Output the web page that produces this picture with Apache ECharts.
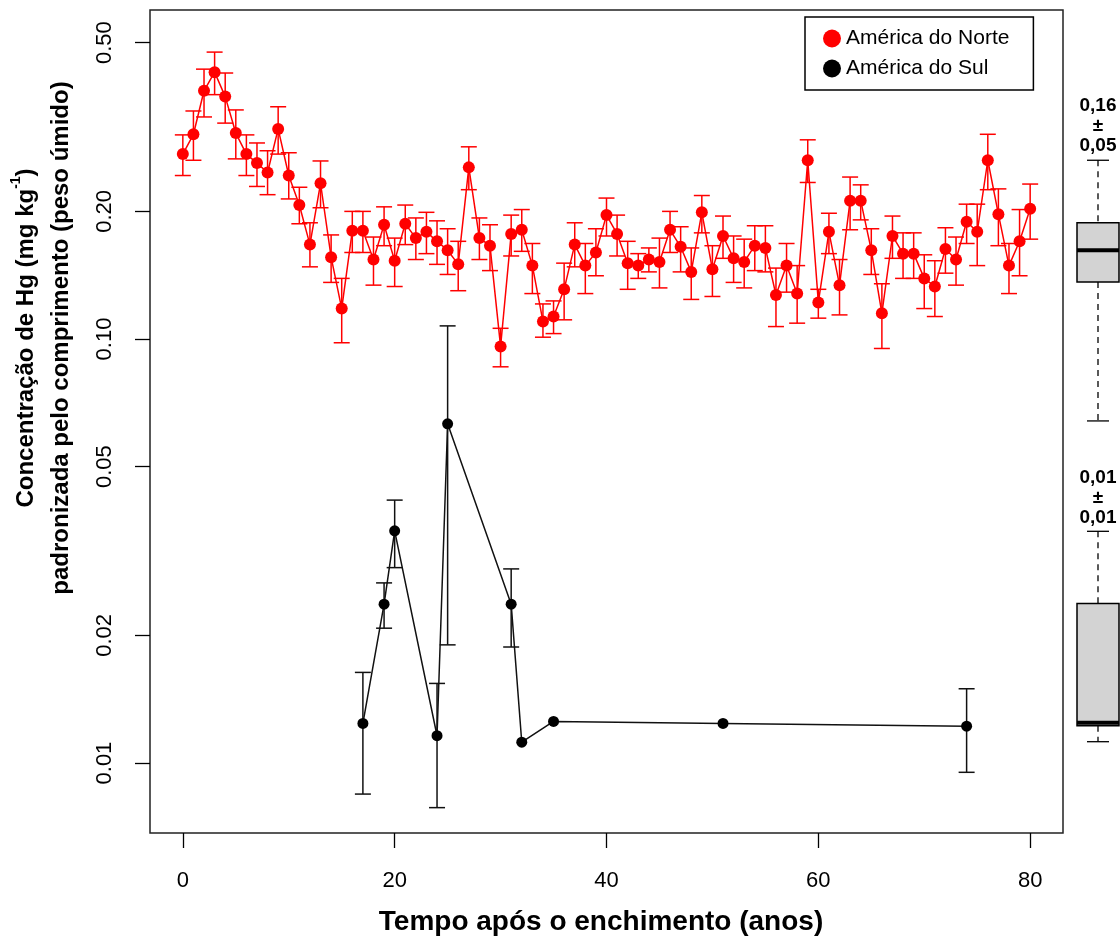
<!DOCTYPE html>
<html><head><meta charset="utf-8">
<script src="https://cdn.jsdelivr.net/npm/echarts@6/dist/echarts.min.js"></script>
<style>html,body{margin:0;padding:0;background:#fff}#c{width:1120px;height:939px}</style>
</head><body><div id="c"></div>
<script>
const FONT = "'Liberation Sans', Arial, Helvetica, sans-serif";

// ---- América do Norte (ano, média, limite inferior, limite superior)
const naYears = [0,1,2,3,4,5,6,7,8,9,10,11,12,13,14,15,16,17,18,19,20,21,22,23,24,25,26,27,28,29,30,31,32,33,34,35,36,37,38,39,40,41,42,43,44,45,46,47,48,49,50,51,52,53,54,55,56,57,58,59,60,61,62,63,64,65,66,67,68,69,70,71,72,73,74,75,76,77,78,79,80];
const naMean = [0.273,0.304,0.385,0.426,0.373,0.306,0.273,0.260,0.247,0.313,0.243,0.207,0.167,0.233,0.156,0.118,0.180,0.180,0.154,0.186,0.153,0.187,0.173,0.179,0.170,0.162,0.150,0.254,0.173,0.166,0.096,0.177,0.181,0.149,0.110,0.113,0.131,0.167,0.149,0.160,0.196,0.177,0.151,0.149,0.154,0.152,0.181,0.165,0.144,0.199,0.146,0.175,0.155,0.152,0.166,0.164,0.127,0.149,0.128,0.264,0.122,0.179,0.134,0.212,0.212,0.162,0.115,0.175,0.159,0.159,0.139,0.133,0.163,0.154,0.189,0.179,0.264,0.197,0.149,0.170,0.203];
const naHigh = [0.303,0.345,0.433,0.475,0.424,0.347,0.303,0.290,0.278,0.353,0.275,0.228,0.188,0.263,0.176,0.139,0.200,0.200,0.174,0.205,0.173,0.207,0.193,0.199,0.190,0.182,0.170,0.284,0.193,0.186,0.106,0.196,0.202,0.168,0.121,0.123,0.151,0.188,0.168,0.182,0.215,0.196,0.170,0.159,0.164,0.173,0.200,0.184,0.164,0.218,0.166,0.195,0.175,0.172,0.185,0.185,0.147,0.168,0.149,0.295,0.131,0.198,0.154,0.241,0.231,0.182,0.135,0.195,0.178,0.178,0.158,0.153,0.183,0.174,0.208,0.208,0.304,0.226,0.168,0.202,0.232];
const naLow = [0.243,0.264,0.334,0.377,0.323,0.266,0.243,0.229,0.219,0.273,0.214,0.187,0.148,0.204,0.136,0.098,0.160,0.160,0.134,0.166,0.133,0.167,0.154,0.159,0.150,0.142,0.130,0.225,0.154,0.145,0.086,0.157,0.161,0.128,0.101,0.103,0.111,0.148,0.128,0.141,0.175,0.157,0.131,0.139,0.144,0.132,0.160,0.144,0.124,0.178,0.126,0.155,0.136,0.132,0.145,0.144,0.107,0.129,0.109,0.234,0.112,0.159,0.114,0.181,0.191,0.142,0.095,0.155,0.139,0.139,0.118,0.113,0.143,0.134,0.168,0.149,0.225,0.166,0.128,0.141,0.172];

// ---- América do Sul
const saYears = [17,19,20,24,25,31,32,35,51,74];
const saMean = [0.0124,0.0237,0.0353,0.0116,0.0631,0.0237,0.0112,0.01254,0.0124,0.01222];
const saHigh = [0.01636,0.0266,0.0417,0.01541,0.1074,0.0287,null,null,null,0.01497];
const saLow  = [0.00845,0.0208,0.0289,0.00785,0.0190,0.01878,null,null,null,0.00951];

// ---- Boxplots: [min, Q1, mediana, Q3, max]
const naBox = [0.0641,0.1363,0.162,0.188,0.264];
const saBox = [0.01123,0.01224,0.01245,0.0238,0.0352];
const boxLabels = ['0,16\n±\n0,05', '0,01\n±\n0,01'];

const xTicks = [0,20,40,60,80];
const yTicks = [0.01,0.02,0.05,0.10,0.20,0.50];
const Y_MIN = 0.00684, Y_MAX = 0.597;
const X_MIN = -3.1, X_MAX = 83.1;

const RED = '#ff0000', BLACK = '#000000';

function zip3(a,b,c){ const out=[]; for(let i=0;i<a.length;i++){ if(b[i]!=null && c[i]!=null) out.push([a[i],b[i],c[i]]); } return out; }
function zip2(a,b){ return a.map((v,i)=>[v,b[i]]); }

function errRender(color){
  return function(params, api){
    const x = api.value(0);
    const pLo = api.coord([x, api.value(1)]);
    const pHi = api.coord([x, api.value(2)]);
    const hw = 8;
    const st = {stroke:color, lineWidth:1.5};
    return {type:'group', children:[
      {type:'line', shape:{x1:pLo[0],y1:pLo[1],x2:pHi[0],y2:pHi[1]}, style:st},
      {type:'line', shape:{x1:pHi[0]-hw,y1:pHi[1],x2:pHi[0]+hw,y2:pHi[1]}, style:st},
      {type:'line', shape:{x1:pLo[0]-hw,y1:pLo[1],x2:pLo[0]+hw,y2:pLo[1]}, style:st}
    ]};
  };
}

function boxRender(params, api){
  const xv = api.value(0);
  const vals = [api.value(1),api.value(2),api.value(3),api.value(4),api.value(5)];
  const cx = api.coord([xv, vals[2]])[0];
  const y = vals.map(v => api.coord([xv, v])[1]);
  const hw = 21, cw = 11;
  const dash = {stroke:'#000', lineWidth:1.3, lineDash:[6,5]};
  const solid = {stroke:'#000', lineWidth:1.3};
  return {type:'group', children:[
    {type:'line', shape:{x1:cx,y1:y[4],x2:cx,y2:y[3]}, style:dash},
    {type:'line', shape:{x1:cx,y1:y[1],x2:cx,y2:y[0]}, style:dash},
    {type:'line', shape:{x1:cx-cw,y1:y[4],x2:cx+cw,y2:y[4]}, style:solid},
    {type:'line', shape:{x1:cx-cw,y1:y[0],x2:cx+cw,y2:y[0]}, style:solid},
    {type:'rect', shape:{x:cx-hw,y:y[3],width:2*hw,height:y[1]-y[3]}, style:{fill:'#d3d3d3', stroke:'#000', lineWidth:1.5}},
    {type:'line', shape:{x1:cx-hw,y1:y[2],x2:cx+hw,y2:y[2]}, style:{stroke:'#000', lineWidth:4}},
    {type:'text', x:cx, y:y[4]-4, style:{text:boxLabels[params.dataIndex], fill:'#000', font:'bold 19px '+FONT, align:'center', verticalAlign:'bottom', lineHeight:20}}
  ]};
}

const chart = echarts.init(document.getElementById('c'), null, {renderer:'canvas'});
chart.setOption({
  animation:false,
  backgroundColor:'#fff',
  textStyle:{fontFamily:FONT},
  grid:[
    {left:150, top:10, width:913, height:823, show:true, borderColor:'#222', borderWidth:1.5, backgroundColor:'transparent'},
    {left:1077, top:10, width:42, height:823, show:false}
  ],
  xAxis:[
    {type:'value', gridIndex:0, min:X_MIN, max:X_MAX,
     axisLine:{show:false, onZero:false}, splitLine:{show:false},
     axisTick:{show:true, length:15, customValues:xTicks, lineStyle:{color:'#000', width:1.3}},
     axisLabel:{customValues:xTicks, color:'#000', fontSize:22, fontFamily:FONT, margin:37}},
    {type:'value', gridIndex:1, min:-1, max:1, show:false}
  ],
  yAxis:[
    {type:'log', logBase:10, gridIndex:0, min:Y_MIN, max:Y_MAX,
     axisLine:{show:false, onZero:false}, splitLine:{show:false}, minorTick:{show:false},
     axisTick:{show:true, length:15, customValues:yTicks, lineStyle:{color:'#000', width:1.3}},
     axisLabel:{customValues:yTicks, rotate:90, color:'#000', fontSize:22, fontFamily:FONT, margin:34,
       formatter:v => Number(v).toFixed(2)}},
    {type:'log', logBase:10, gridIndex:1, min:Y_MIN, max:Y_MAX, show:false}
  ],
  legend:{
    orient:'vertical', left:805, top:17,
    padding:[11,24,11,18], itemGap:9, itemWidth:18, itemHeight:18,
    borderColor:'#000', borderWidth:1.5, borderRadius:0, backgroundColor:'#fff',
    textStyle:{fontSize:21, color:'#000', fontFamily:FONT},
    data:[{name:'América do Norte', icon:'circle'},{name:'América do Sul', icon:'circle'}]
  },
  series:[
    {type:'custom', name:'errNA', xAxisIndex:0, yAxisIndex:0, renderItem:errRender(RED),
     data:zip3(naYears,naLow,naHigh), encode:{x:0,y:[1,2]}, z:2, silent:true},
    {type:'custom', name:'errSA', xAxisIndex:0, yAxisIndex:0, renderItem:errRender('#111'),
     data:zip3(saYears,saLow,saHigh), encode:{x:0,y:[1,2]}, z:2, silent:true},
    {type:'line', name:'América do Sul', xAxisIndex:0, yAxisIndex:0, data:zip2(saYears,saMean),
     symbol:'circle', symbolSize:11, showSymbol:true, color:BLACK,
     lineStyle:{color:'#111', width:1.5}, itemStyle:{color:BLACK}, z:3},
    {type:'line', name:'América do Norte', xAxisIndex:0, yAxisIndex:0, data:zip2(naYears,naMean),
     symbol:'circle', symbolSize:12, showSymbol:true, color:RED,
     lineStyle:{color:RED, width:1.5}, itemStyle:{color:RED}, z:4},
    {type:'custom', name:'box', xAxisIndex:1, yAxisIndex:1, renderItem:boxRender,
     data:[[0].concat(naBox),[0].concat(saBox)], encode:{x:0,y:[1,2,3,4,5]}, clip:false, silent:true}
  ],
  graphic:[
    {type:'text', x:44, y:338, rotation:Math.PI/2,
     style:{text:'{b|Concentração de Hg (mg kg}{s|-1}{b|)}\n{b|padronizada pelo comprimento (peso úmido)}',
       align:'center', verticalAlign:'middle', fill:'#000',
       rich:{b:{fontSize:24, fontWeight:'bold', fontFamily:FONT, lineHeight:35, fill:'#000'},
             s:{fontSize:14, fontWeight:'bold', fontFamily:FONT, lineHeight:35, verticalAlign:'top', fill:'#000'}}}},
    {type:'text', x:601, y:922,
     style:{text:'Tempo após o enchimento (anos)', font:'bold 28px '+FONT, fill:'#000', align:'center', verticalAlign:'middle'}}
  ]
});
</script>
</body></html>
